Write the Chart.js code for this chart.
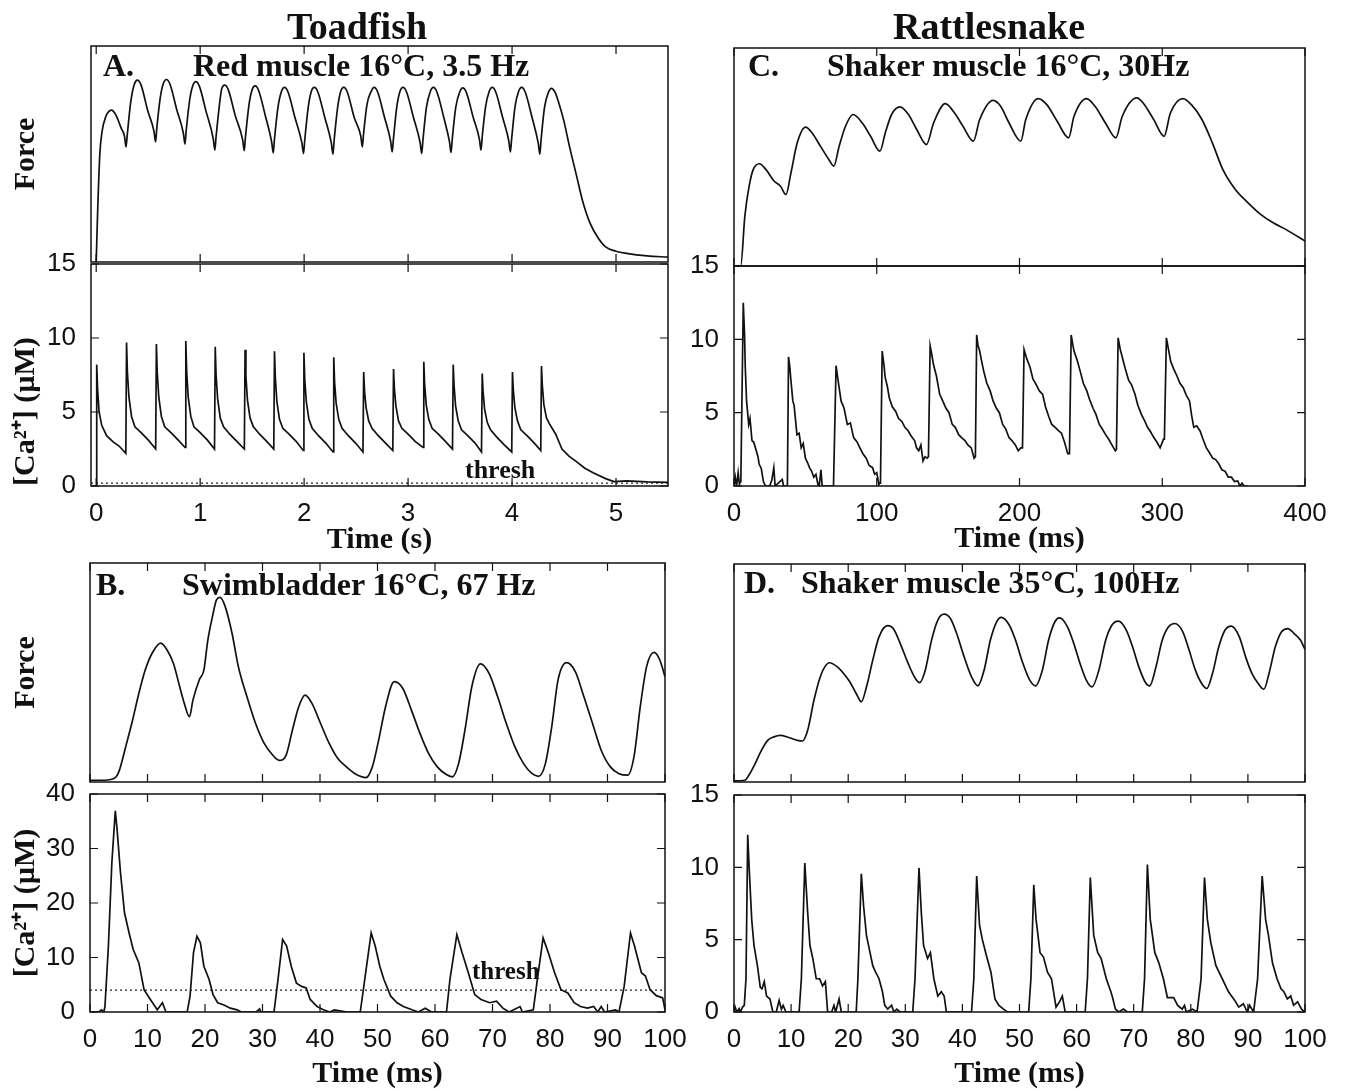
<!DOCTYPE html>
<html>
<head>
<meta charset="utf-8">
<script src="https://cdn.jsdelivr.net/npm/chart.js@4.4.1/dist/chart.umd.min.js"></script>
<style>
body { margin: 0; background: #fff; }
#fig { position: relative; width: 1346px; height: 1091px; background: #fff; overflow: hidden; }
#fig canvas { position: absolute; }
.t { position: absolute; font-family: "Liberation Serif", "Times New Roman", serif; font-weight: bold; color: #111; line-height: 1; white-space: nowrap; }
</style>
</head>
<body>
<div id="fig">
  <canvas id="aF"></canvas>
  <canvas id="aC"></canvas>
  <canvas id="bF"></canvas>
  <canvas id="bC"></canvas>
  <canvas id="cF"></canvas>
  <canvas id="cC"></canvas>
  <canvas id="dF"></canvas>
  <canvas id="dC"></canvas>

  <div class="t" style="left:357px;top:7px;font-size:38px;transform:translateX(-50%)">Toadfish</div>
  <div class="t" style="left:989px;top:7px;font-size:38px;transform:translateX(-50%)">Rattlesnake</div>

  <div class="t" style="left:103px;top:49px;font-size:32px">A.</div>
  <div class="t" style="left:193px;top:49px;font-size:32px">Red muscle 16°C, 3.5 Hz</div>
  <div class="t" style="left:748px;top:49px;font-size:32px">C.</div>
  <div class="t" style="left:827px;top:49px;font-size:32px">Shaker muscle 16°C, 30Hz</div>
  <div class="t" style="left:96px;top:568px;font-size:32px">B.</div>
  <div class="t" style="left:182px;top:568px;font-size:32px">Swimbladder 16°C, 67 Hz</div>
  <div class="t" style="left:744px;top:566px;font-size:32px">D.</div>
  <div class="t" style="left:801px;top:566px;font-size:32px">Shaker muscle 35°C, 100Hz</div>

  <div class="t" style="left:465px;top:457px;font-size:26px">thresh</div>
  <div class="t" style="left:472px;top:958px;font-size:25px">thresh</div>
</div>

<script>
// ---- data: [time, value] ----

// A. toadfish red muscle, time in s, force in arbitrary units (0-100)
const aForce = [
  [0,0],[0.015,25],[0.035,50],[0.055,60],[0.09,67],[0.146,70.3],[0.19,68],[0.24,62],[0.272,58.3],
  [0.287,53.3],[0.299,59],[0.332,74],[0.366,82.2],[0.396,84.2],[0.431,82],[0.496,70],[0.556,60.5],
  [0.571,55.6],[0.583,62],[0.616,76],[0.645,82.5],[0.675,84.5],[0.71,82.3],[0.775,70.5],[0.839,59.5],
  [0.854,54.6],[0.866,61],[0.899,75],[0.928,81.5],[0.958,83.5],[0.993,81.3],[1.058,69.5],[1.126,57],
  [1.141,51.8],[1.153,58],[1.186,73],[1.206,79.9],[1.236,81.9],[1.271,79.7],[1.336,68],[1.409,56.5],
  [1.424,51.5],[1.436,58],[1.469,72.5],[1.498,79.5],[1.528,81.5],[1.563,79.3],[1.628,67.5],[1.688,55.5],
  [1.703,50.5],[1.715,57],[1.748,71.5],[1.781,78.8],[1.811,80.8],[1.846,78.6],[1.911,67],[1.979,55],
  [1.994,50.2],[2.006,56.5],[2.039,71.5],[2.068,78.8],[2.098,80.8],[2.133,78.6],[2.198,67],[2.262,55],
  [2.277,49.9],[2.289,56.5],[2.322,71.5],[2.351,78.8],[2.381,80.8],[2.416,78.6],[2.481,67],[2.545,58.3],
  [2.56,53.3],[2.572,59.5],[2.605,73],[2.643,78.8],[2.673,80.8],[2.708,78.6],[2.773,67],[2.832,56],
  [2.847,51],[2.859,57],[2.892,72],[2.921,78.8],[2.951,80.8],[2.986,78.6],[3.051,67],[3.116,55.2],
  [3.131,50.2],[3.143,56.5],[3.176,71.5],[3.213,78.8],[3.243,80.8],[3.278,78.6],[3.343,67],[3.398,55.7],
  [3.413,50.7],[3.425,57],[3.458,71.5],[3.496,78.6],[3.526,80.6],[3.561,78.4],[3.626,67],[3.686,56.8],
  [3.701,51.8],[3.713,58],[3.746,72],[3.779,78.8],[3.809,80.8],[3.844,78.6],[3.909,67],[3.969,56],
  [3.984,51],[3.996,57],[4.029,72],[4.062,78.8],[4.092,80.8],[4.127,78.6],[4.192,67],[4.252,55],
  [4.267,49.9],[4.279,56.5],[4.312,71.5],[4.349,78.4],[4.379,80.4],[4.414,78.5],[4.46,72],[4.5,65],
  [4.55,54],[4.62,40],[4.68,28],[4.75,18],[4.83,11],[4.9,7],[5.0,5],[5.1,4],[5.3,2.8],[5.5,2.3]
];

// A. [Ca2+] in uM
const aCa = [
  [-0.05,0],[0,0],[0.005,8.2],[0.013,6.6],[0.028,5.0],[0.053,4.1],[0.1,3.4],[0.16,3.0],[0.22,2.7],[0.285,2.2],
  [0.292,9.7],[0.3,7.7],[0.315,6.0],[0.34,4.7],[0.372,4.0],[0.432,3.6],[0.502,3.1],[0.572,2.5],
  [0.579,9.6],[0.587,7.7],[0.602,6.0],[0.627,4.7],[0.659,4.0],[0.719,3.6],[0.789,3.1],[0.855,2.6],
  [0.862,9.8],[0.87,7.8],[0.885,6.0],[0.91,4.7],[0.94,4.0],[1.0,3.6],[1.07,3.1],[1.138,2.5],
  [1.145,9.4],[1.153,7.5],[1.168,5.9],[1.193,4.6],[1.225,4.0],[1.285,3.5],[1.355,3.0],[1.425,2.5],
  [1.432,9.2],[1.44,7.4],[1.455,5.8],[1.48,4.6],[1.512,4.0],[1.572,3.5],[1.642,3.0],[1.708,2.5],
  [1.715,9.1],[1.723,7.3],[1.738,5.7],[1.763,4.5],[1.795,3.9],[1.855,3.5],[1.925,3.0],[1.991,2.4],
  [1.998,9.0],[2.006,7.2],[2.021,5.7],[2.046,4.5],[2.078,3.9],[2.138,3.4],[2.208,2.9],[2.278,2.3],
  [2.285,8.7],[2.293,7.0],[2.308,5.6],[2.333,4.5],[2.365,3.9],[2.425,3.4],[2.495,2.9],[2.566,2.3],
  [2.573,7.7],[2.581,6.4],[2.596,5.3],[2.621,4.4],[2.653,3.9],[2.713,3.4],[2.783,2.9],[2.853,2.4],
  [2.86,7.9],[2.868,6.6],[2.883,5.4],[2.908,4.4],[2.94,3.9],[3.0,3.5],[3.07,3.0],[3.144,2.6],
  [3.151,8.4],[3.159,6.9],[3.174,5.5],[3.199,4.5],[3.231,3.9],[3.291,3.5],[3.361,3.0],[3.427,2.5],
  [3.434,8.2],[3.442,6.8],[3.457,5.4],[3.482,4.4],[3.514,3.8],[3.574,3.4],[3.644,2.9],[3.706,2.3],
  [3.713,7.6],[3.721,6.4],[3.736,5.2],[3.761,4.3],[3.793,3.8],[3.853,3.3],[3.923,2.8],[3.997,2.3],
  [4.004,7.7],[4.012,6.5],[4.027,5.3],[4.052,4.4],[4.084,3.8],[4.144,3.4],[4.214,2.9],[4.276,2.4],
  [4.283,8.1],[4.291,6.8],[4.306,5.5],[4.331,4.6],[4.36,4.2],[4.42,3.5],[4.48,2.5],[4.55,2.0],
  [4.61,1.7],[4.7,1.2],[4.78,0.9],[4.9,0.5],[4.98,0.3],[5.1,0.35],[5.3,0.28],[5.5,0.25]
];
const aThresh = 0.2;

// B. toadfish swimbladder, time in ms
const bForce = [
  [0,0.8],[2.5,0.8],[4.4,2],[5.1,5.3],[6.2,16],[7.4,28.2],[8.5,40.5],[9.6,51.1],[10.8,58.8],[12.3,63.4],
  [13.4,60.3],[14.5,54.2],[15.6,43.5],[16.4,35.9],[17.3,29.8],
  [17.9,37.4],[19,46.6],[19.8,51.1],[20.5,64.9],[21.3,75.6],[22,83.2],[22.6,84.3],[23.5,80.2],[24.7,67.9],
  [25.8,52.7],[27.3,38.9],[28.8,26.7],[30.3,17.6],[31.8,12.2],[32.9,9.9],
  [34.1,12.2],[35.2,23.7],[36.3,34.4],[37.4,39.7],[38.6,35.9],[40.1,26.7],[41.6,17.6],[43.1,10.7],[44.6,6.9],[46.1,3.8],[48,2],
  [49.1,6.9],[50.2,19.1],[51.4,34.4],[52.9,45.8],[54.4,42.7],[55.9,32.8],[57.4,22.1],[58.9,13],[60.4,6.9],[61.9,3.5],[63,2.3],
  [64.1,8.4],[65.3,25.2],[66.4,43.5],[67.9,53.9],[69.4,49.6],[70.9,38.9],[72.4,26.7],[73.9,16],[75.4,8.4],[76.9,3.8],[78,2.6],
  [79.2,8.4],[80.3,25.2],[81.4,46.6],[82.9,54.5],[84.4,50.4],[85.9,38.9],[87.4,26.7],[88.9,14.5],[90.5,6.9],[92,3.8],[93.5,3.1],
  [94.6,11.5],[95.7,34.4],[96.8,52.7],[98.1,59.2],[99.1,55.7],[100,48.1]
];
const bCa = [
  [0,0],[1.5,0],[2.0,0.4],[2.4,0],[2.6,1],[3.2,12.1],[3.8,27.4],[4.4,36.9],[4.7,33.6],[5.3,25.6],[6.0,18.2],
  [6.8,14.5],[7.5,11.5],[8.5,9.0],[9.4,4.1],[10.5,2.3],[11.7,0.4],[12.6,1.7],[13.2,0],
  [16.9,0],[17.4,2.9],[18.0,10.9],[18.6,13.9],[19.2,12.7],[19.8,8.4],[20.7,6.0],[21.4,3.2],[22.2,1.7],[23.3,1.3],
  [24.4,0.7],[25.6,0.4],[26.3,0],[28.9,0],[29.5,0.55],[29.7,0],
  [32.0,0],[32.7,6.0],[33.5,13.3],[34.2,12.1],[35.0,8.4],[35.9,5.3],[36.8,4.7],[37.6,4.4],[38.3,2.3],[39.5,1.0],
  [40.6,0.4],[41.7,0],[42.5,0.4],[44.7,0],
  [47.0,0],[48.1,8.4],[48.9,14.5],[49.6,12.1],[50.4,8.4],[51.1,6.0],[52.3,2.9],[53.4,1.7],[54.5,1.0],[56.0,0.4],
  [57.1,0],[58.3,0.7],[59.4,0],
  [62.0,0],[62.6,6.0],[63.8,14.2],[64.7,10.9],[65.8,7.2],[66.9,3.2],[68.0,2.3],[69.5,1.7],[70.7,2.0],[71.8,0.7],
  [72.9,0],[74.8,1.0],[75.2,0],[77.1,0.4],
  [77.8,6.0],[78.8,13.6],[79.7,10.9],[80.8,7.2],[81.9,4.1],[83.1,3.5],[84.2,1.7],[85.3,1.0],[86.5,0.7],[87.6,1.0],
  [88.3,0],[88.9,1.0],[89.5,0],[91.4,0.4],[92.0,0],
  [92.9,4.7],[94.0,14.5],[94.7,12.1],[95.9,7.2],[96.6,6.6],[97.4,4.1],[98.5,3.0],[99.6,2.6],[100,0.4]
];
const bThresh = 4;

// C. rattlesnake shaker muscle 16C, time in ms
const cForce = [
  [0,0],[4.7,0],[7.6,22.9],[10.6,36.6],[13.5,44.3],[17.9,46.9],[22.3,44.3],[28.2,38.9],[32.6,36.6],[36.4,32.8],
  [39.9,42.7],[44.3,56.5],[50.2,63.7],[54.6,61.1],[60.5,55],[66.4,48.9],[69.9,45.8],
  [73.7,55],[78.1,64.1],[83.4,69.5],[89.9,65.6],[95.7,59.5],[102.2,52.7],
  [106,61.1],[110.4,69.5],[116.3,73],[122.2,69.5],[128,62.6],[134.8,55.7],
  [139.8,65.6],[148,74.5],[154.5,70.2],[160.4,64.1],[167.7,57.3],
  [172.1,67.2],[181.5,76],[186.8,73.3],[192.7,65.6],[200.9,57.3],
  [204.4,67.2],[213.2,76.8],[219.1,74],[226.4,66.4],[234.4,58.8],
  [238.2,68.7],[247,76.8],[252.9,73.3],[260.2,65.6],[267.5,58.8],
  [272,68.7],[282.2,77.1],[286.6,74.8],[294,67.2],[301.3,59.5],
  [305.7,70.2],[314.5,76.8],[320.4,74],[327.8,67.2],[335.1,56.5],[342.4,44.3],[351.2,35.1],[360.1,29],
  [368.9,23.7],[377.7,19.8],[386.5,16.8],[392.4,14.5],[400,11.5]
];
const cCa = [
  [0,0],[0.9,0.6],[1.8,0],[2.9,0.9],[3.8,0.1],[4.4,0.3],[4.8,0.4],[6.5,12.5],[7.4,10.3],[7.9,8.1],[8.8,5.8],
  [10.3,4.2],[11.2,4.6],[12.6,3.1],[13.8,3.0],[15.6,2.4],[16.8,2.0],[17.6,1.5],[19.1,1.2],[20.6,0.3],[22.1,0],
  [25,0],[26.5,0.4],[27.9,1.25],[28.8,0],[33.8,0.45],[34.7,0],[36.8,0],
  [37.4,0],[38.2,8.8],[39.1,8.1],[39.7,7.4],[41.2,5.8],[42.1,5.5],[44.1,3.5],[45.6,3.6],[47.1,2.6],[48.5,2.9],
  [50,1.9],[51.5,1.6],[52.9,1.25],[54.4,1.0],[55.9,0.6],[57.4,0.8],[58.8,0.1],[59.7,0],[60.9,1.1],[61.8,0],[69.1,0],
  [69.7,0],[71.5,8.2],[72.6,7.4],[73.8,6.6],[75,5.8],[77.1,5.3],[79.4,4.2],[81.5,4.3],[83.8,3.3],[86.2,3.0],
  [88.2,2.6],[90.3,2.2],[92.6,1.9],[94.7,1.4],[97.1,1.25],[98.5,0.8],[100,0.9],[101.5,0.1],[102.1,0.2],
  [102.6,0.2],[103.8,9.2],[105,8.3],[105.9,7.4],[107.4,6.8],[108.8,6.0],[110.9,5.4],[113.2,5.1],[115.3,4.6],
  [117.6,4.4],[119.7,4.0],[122.1,3.75],[124.1,3.4],[126.5,3.1],[127.9,2.6],[129.4,2.4],[130.9,2.8],[132.4,1.7],
  [133.8,2.0],[135.3,1.9],
  [136.2,2.0],[137.4,9.55],[138.5,9.0],[139.7,8.3],[141.8,7.5],[144.1,6.25],[146.2,5.8],[148.5,5.3],[150.6,5.0],
  [152.9,4.2],[155,4.0],[157.4,3.5],[159.4,3.3],[161.8,3.1],[163.8,2.8],[166.2,2.6],[168.2,1.9],
  [169.1,2.0],[170,10.3],[170.9,9.6],[172.1,9.2],[173.5,8.5],[175,7.8],[177.1,7.0],[179.4,6.5],[181.5,5.8],
  [183.8,5.3],[185.9,5.0],[188.2,4.2],[190.3,3.9],[192.6,3.3],[194.7,3.1],[197.1,2.8],[199.1,2.4],[200.9,2.6],
  [202.1,2.6],[203.2,9.3],[205,8.7],[207.4,8.1],[209.4,7.3],[211.8,6.9],[213.8,6.5],[216.2,6.25],[218.2,5.4],
  [220.6,4.7],[222.6,4.2],[225,4.0],[227.1,3.8],[229.4,3.6],[231.5,3.0],[233.8,2.2],
  [235,2.2],[236.2,10.3],[237.4,9.6],[238.2,9.2],[240.3,8.6],[242.6,7.8],[244.7,7.0],[247.1,6.5],[249.1,5.9],
  [251.5,5.3],[253.5,4.9],[255.9,4.2],[257.9,3.9],[260.3,3.5],[262.4,3.2],[264.7,2.8],[267.1,2.4],
  [267.9,2.5],[269.1,10.1],[270.6,9.3],[272.1,8.75],[274.1,8.0],[276.5,7.2],[278.5,6.9],[280.9,6.25],[282.9,5.5],
  [285.3,4.9],[287.4,4.5],[289.7,4.0],[291.8,3.7],[294.1,3.3],[296.2,3.0],[298.5,2.6],[300.9,3.2],
  [301.5,3.2],[302.9,10.1],[304.4,9.3],[305.9,8.5],[307.9,8.0],[310.3,7.5],[312.4,7.0],[314.7,6.7],[316.8,6.2],
  [319.1,5.8],[320.6,4.8],[322.1,4.0],[324.1,4.1],[326.5,3.75],[328.5,3.2],[330.9,2.6],[332.9,2.3],[335.3,1.9],
  [337.4,1.8],[339.7,1.5],[341.8,1.1],[344.1,1.0],[346.2,0.6],[348.5,0.6],[350.6,0.3],[352.9,0.35],[354.4,0],
  [355.9,0.2],[357.4,0],[360,0]
];

// D. rattlesnake shaker muscle 35C, time in ms
const dForce = [
  [0,0.5],[1.9,0.8],[2.6,3.1],[3.7,8.4],[4.8,14.5],[5.9,19.1],[7,20.7],[8.1,21.4],[9.6,20.4],[11.1,19.1],[12,18.8],
  [12.9,23.7],[14,37.5],[15.1,48.2],[15.9,52.8],[16.7,54.7],[18.1,52.8],[19.2,49.8],[20.3,45.9],[21.4,40.6],[22.3,36.8],
  [23.2,43.6],[24.3,55.9],[25.4,66.6],[26.9,71.7],[28,70],[29.1,63.6],[30.5,54.4],[31.6,48.2],[32.5,45.6],
  [33.5,51.3],[34.6,65.1],[35.7,74.3],[36.8,77],[37.9,75],[39,68.1],[40.1,59],[41.6,48.2],[42.7,44.1],
  [43.8,51.3],[44.9,65.1],[46,73.5],[46.8,75.5],[48.2,72],[49.3,65.1],[50.4,55.9],[51.8,46.7],[52.8,44.1],
  [54,51.3],[55.1,65.1],[56.2,73.5],[57,75.3],[58.4,71.2],[59.5,63.6],[60.6,54.4],[61.7,46.7],[62.7,43.6],
  [63.9,51.3],[65.1,65.1],[66.2,72],[67.3,73.8],[68.7,69.7],[69.8,62],[70.9,52.8],[72,45.9],[72.8,44.1],
  [73.9,52.8],[75,65.1],[76.1,71.2],[77.2,72.7],[78.6,68.9],[79.7,60.5],[80.8,51.3],[81.9,45.2],[82.8,42.9],
  [83.8,49.8],[84.9,62],[86,69.7],[87.1,71.5],[88.5,66.6],[89.6,57.4],[90.7,49.8],[91.8,45.2],[92.8,42.6],
  [93.7,49.8],[94.8,62],[95.9,68.9],[97,70.4],[98.1,68.1],[99.2,65.1],[100,60.8]
];
const dCa = [
  [0,0],[0.2,0.34],[0.5,0],[0.9,0.23],[1.1,0],[1.5,0.34],[1.8,0.46],[2.1,2.3],[2.4,12.25],[2.7,9.6],[3.1,6.4],
  [3.5,4.6],[4.1,3.2],[4.6,1.7],[4.9,1.6],[5.3,2.1],[5.7,1.1],[6.3,0.9],[6.8,0],[7.4,0],[7.9,0.8],[8.3,0.2],[8.6,0.46],[9.1,0],
  [11.4,0],[11.8,2.3],[12.4,10.3],[12.9,6.9],[13.3,4.6],[13.8,3.7],[14.4,2.3],[15.0,2.3],[15.5,1.8],[16.0,2.1],
  [16.4,0],[17.1,0],[17.5,0.46],[17.8,0],[18.4,0.9],[18.8,0],
  [21.4,0],[21.7,2.3],[22.3,9.55],[22.7,7.3],[23.2,5.3],[23.7,4.35],[24.3,3.2],[24.8,2.75],[25.4,2.3],[26.0,1.4],
  [26.4,0.46],[26.9,0.2],[27.6,0.46],[28.0,0],[28.5,0.2],[29.1,0],
  [31.3,0],[31.7,2.3],[32.4,9.96],[32.8,6.9],[33.2,4.6],[33.9,3.7],[34.4,4.1],[35.0,2.3],[35.7,1.1],[36.3,1.4],[36.8,1.1],[37.2,0],
  [41.6,0],[42.0,2.3],[42.5,9.4],[43.0,6.0],[43.5,5.0],[44.2,3.9],[45.0,2.75],[45.7,0.9],[46.4,0.46],[47.2,0.2],[47.9,0],
  [51.6,0],[52.0,2.3],[52.5,8.8],[52.9,6.4],[53.6,4.1],[54.2,3.8],[54.9,2.75],[55.6,2.3],[56.4,0.34],[57.0,0.7],[57.5,1.1],[58.0,0],
  [61.5,0],[61.9,2.3],[62.4,9.3],[63.0,5.3],[63.7,4.1],[64.3,3.7],[65.2,2.3],[66.0,1.4],[66.3,1.0],[66.8,0.2],[67.4,0],[68.2,0.2],[68.9,0],
  [71.5,0],[71.9,2.3],[72.4,10.2],[72.9,6.4],[73.7,4.1],[74.4,3.4],[75.2,2.3],[75.9,1.0],[77.0,1.0],[77.7,0.46],
  [78.5,0.2],[78.9,0.46],[79.2,0],[80.3,0.2],[81.1,0],
  [81.8,2.3],[82.4,9.3],[82.9,6.4],[83.5,4.8],[84.4,3.2],[85.5,2.3],[86.6,1.4],[87.7,0.8],[88.4,0.34],[89.2,0.57],
  [89.9,0],[90.3,0.46],[91.0,0],
  [91.7,2.3],[92.5,9.4],[93.1,6.4],[93.6,5.3],[94.3,3.4],[95.1,2.3],[95.8,1.6],[96.3,1.4],[96.9,0.9],[97.5,1.1],
  [98.0,0.46],[98.7,0.7],[99.4,0.2],[100,0]
];

// tick values
const secTicks = [0, 1, 2, 3, 4, 5];
const ms10Ticks = [0, 10, 20, 30, 40, 50, 60, 70, 80, 90, 100];
const ms100Ticks = [0, 100, 200, 300, 400];
const ca15Ticks = [0, 5, 10, 15];
const ca40Ticks = [0, 10, 20, 30, 40];

// ---- drawing ----
const INK = '#111';
const caTitle = '[Ca²⁺] (µM)';

// box round the plot area with small inward ticks
function frame(xt, yt) {
  return {
    id: 'frame',
    afterDatasetsDraw(chart) {
      var ctx = chart.ctx, a = chart.chartArea, sx = chart.scales.x, sy = chart.scales.y;
      ctx.save();
      ctx.strokeStyle = INK;
      ctx.lineWidth = 1.5;
      ctx.strokeRect(a.left, a.top, a.right - a.left, a.bottom - a.top);
      ctx.lineWidth = 1.2;
      ctx.beginPath();
      xt.forEach(function(v) {
        var px = sx.getPixelForValue(v);
        ctx.moveTo(px, a.bottom); ctx.lineTo(px, a.bottom - 8);
        ctx.moveTo(px, a.top); ctx.lineTo(px, a.top + 8);
      });
      yt.forEach(function(v) {
        var py = sy.getPixelForValue(v);
        ctx.moveTo(a.left, py); ctx.lineTo(a.left + 8, py);
        ctx.moveTo(a.right, py); ctx.lineTo(a.right - 8, py);
      });
      ctx.stroke();
      ctx.restore();
    }
  };
}

function xy(pairs) {
  return pairs.map(function(p) { return {x: p[0], y: p[1]}; });
}

function makeChart(p) {
  var cv = document.getElementById(p.id);
  cv.width = p.w; cv.height = p.h;
  cv.style.left = p.left + 'px';
  cv.style.top = p.top + 'px';

  var sets = [{
    data: xy(p.data), borderColor: INK, borderWidth: 1.7, pointRadius: 0,
    cubicInterpolationMode: p.smooth ? 'monotone' : 'default', tension: 0
  }];
  if (p.thresh != null) {
    sets.push({
      data: xy([[p.xr[0], p.thresh], [p.xr[1], p.thresh]]),
      borderColor: '#222', borderWidth: 1.3, borderDash: [2, 3], pointRadius: 0
    });
  }
  var isCa = !!p.yTicks.length;

  return new Chart(cv, {
    type: 'line',
    data: { datasets: sets },
    options: {
      responsive: false, animation: false, devicePixelRatio: 1,
      layout: { padding: { left: 0, top: p.padTop, right: p.padRight, bottom: p.padBottom }, autoPadding: false },
      plugins: { legend: { display: false }, tooltip: { enabled: false } },
      scales: {
        x: {
          type: 'linear', min: p.xr[0], max: p.xr[1], display: isCa,
          grid: { display: false, drawTicks: false }, border: { display: false },
          afterBuildTicks: function(s) { s.ticks = p.xTicks.map(function(v) { return {value: v}; }); },
          afterFit: function(s) { s.height = p.axisH || 0; s.paddingLeft = 0; s.paddingRight = 0; },
          ticks: { padding: 15, maxRotation: 0, autoSkip: false, color: INK,
                   font: { family: 'Liberation Sans', size: 26, lineHeight: 1 },
                   callback: function(v) { return String(v); } },
          title: { display: !!p.xTitle, text: p.xTitle, color: INK,
                   font: { family: 'Liberation Serif', size: 30, weight: 'bold', lineHeight: 1 },
                   padding: { top: 0, bottom: p.xTitlePad || 0 } }
        },
        y: {
          type: 'linear', min: p.yr[0], max: p.yr[1],
          grid: { display: false, drawTicks: false }, border: { display: false },
          afterBuildTicks: function(s) { if (isCa) s.ticks = p.yTicks.map(function(v) { return {value: v}; }); },
          afterFit: function(s) { s.width = p.yW; s.paddingTop = 0; s.paddingBottom = 0; },
          ticks: { display: isCa, padding: 15, color: INK,
                   font: { family: 'Liberation Sans', size: 26, lineHeight: 1 },
                   callback: function(v) { return String(v); } },
          title: { display: !!p.yTitle, text: p.yTitle, color: INK, align: p.yAlign || 'center',
                   font: { family: 'Liberation Serif', size: 30, weight: 'bold', lineHeight: 1 },
                   padding: { top: 11, bottom: 0 } }
        }
      }
    },
    plugins: [frame(p.xTicks, p.yTicks)]
  });
}

var panels = [
  // left column: toadfish
  { id: 'aF', data: aForce, smooth: true, xr: [-0.05, 5.5], yr: [0, 100], xTicks: secTicks, yTicks: [],
    left: 0, top: 0, w: 690, h: 265, yW: 91, padTop: 46, padRight: 22, padBottom: 3, yTitle: 'Force' },
  { id: 'aC', data: aCa, thresh: aThresh, xr: [-0.05, 5.5], yr: [0, 15], xTicks: secTicks, yTicks: ca15Ticks,
    left: 0, top: 250, w: 690, h: 310, yW: 91, padTop: 14, padRight: 22, padBottom: 0, axisH: 74,
    yTitle: caTitle, yAlign: 'start', xTitle: 'Time (s)', xTitlePad: 5 },
  { id: 'bF', data: bForce, smooth: true, xr: [0, 100], yr: [0, 100], xTicks: ms10Ticks, yTicks: [],
    left: 0, top: 540, w: 690, h: 250, yW: 90, padTop: 23, padRight: 25, padBottom: 8, yTitle: 'Force' },
  { id: 'bC', data: bCa, thresh: bThresh, xr: [0, 100], yr: [0, 40], xTicks: ms10Ticks, yTicks: ca40Ticks,
    left: 0, top: 780, w: 690, h: 311, yW: 90, padTop: 14, padRight: 25, padBottom: 0, axisH: 79,
    yTitle: caTitle, xTitle: 'Time (ms)', xTitlePad: 2 },
  // right column: rattlesnake
  { id: 'cF', data: cForce, smooth: true, xr: [0, 400], yr: [0, 100], xTicks: ms100Ticks, yTicks: [],
    left: 670, top: 0, w: 676, h: 270, yW: 64, padTop: 48, padRight: 41, padBottom: 4 },
  { id: 'cC', data: cCa, xr: [0, 400], yr: [0, 15], xTicks: ms100Ticks, yTicks: ca15Ticks,
    left: 670, top: 250, w: 676, h: 310, yW: 64, padTop: 16, padRight: 41, padBottom: 0, axisH: 74,
    xTitle: 'Time (ms)', xTitlePad: 6 },
  { id: 'dF', data: dForce, smooth: true, xr: [0, 100], yr: [0, 100], xTicks: ms10Ticks, yTicks: [],
    left: 670, top: 540, w: 676, h: 250, yW: 64, padTop: 24, padRight: 41, padBottom: 8 },
  { id: 'dC', data: dCa, xr: [0, 100], yr: [0, 15], xTicks: ms10Ticks, yTicks: ca15Ticks,
    left: 670, top: 780, w: 676, h: 311, yW: 64, padTop: 15, padRight: 41, padBottom: 0, axisH: 79,
    xTitle: 'Time (ms)', xTitlePad: 2 }
];

panels.forEach(makeChart);
</script>
</body>
</html>
